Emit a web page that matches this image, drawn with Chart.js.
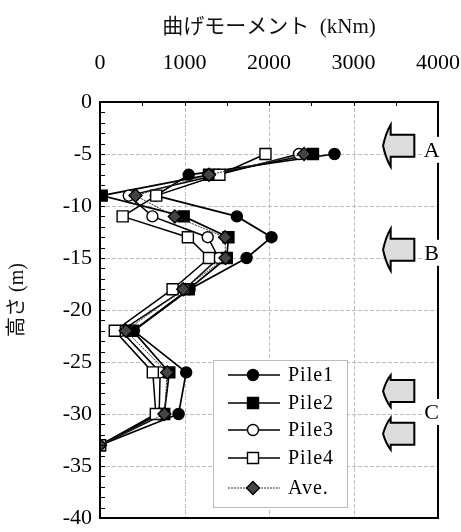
<!DOCTYPE html>
<html>
<head>
<meta charset="utf-8">
<script src="https://cdn.jsdelivr.net/npm/chart.js@4.4.0/dist/chart.umd.min.js"></script>
<style>
  html, body { margin: 0; padding: 0; background: #fff; }
</style>
</head>
<body>
<canvas id="chart" width="461" height="532"></canvas>
<script>
// depth (m) and bending moment (kNm)
const depths = [-5, -7, -9, -11, -13, -15, -18, -22, -26, -30, -33];
const pile1 = [2775, 1050, 660, 1620, 2030, 1735, 1060, 400, 1020, 930, 0];
const pile2 = [2520, 1290, 20, 990, 1520, 1500, 1050, 390, 820, 760, 0];
const pile3 = [2355, 1400, 340, 620, 1275, 1405, 1000, 250, 712, 700, 0];
const pile4 = [1958, 1413, 665, 268, 1040, 1290, 859, 175, 625, 661, 0];
const ave = [2415, 1290, 420, 885, 1480, 1485, 985, 305, 795, 762, 0];

const xTicks = [0, 1000, 2000, 3000, 4000];
const yTicks = [0, -5, -10, -15, -20, -25, -30, -35, -40];

// loading arrows on the right (depth of arrow centre) and their letters
const arrowDepths = [-4.2, -14.2, -27.8, -31.9];
const arrowSizes = [21, 21, 16, 16];
const zoneLabels = ['A', 'B', 'C'];
const zoneDepths = [-4.6, -14.5, -29.8];

const serif = "'Liberation Serif', 'Times New Roman', serif";
const serifJp = "'Liberation Serif', 'Noto Sans CJK JP', serif";

const series = [
  { label: 'Pile1', values: pile1, style: 'circle', radius: 5.5, fill: '#000', line: '#000', width: 1.7, dash: [] },
  { label: 'Pile2', values: pile2, style: 'rect', radius: 7.8, fill: '#000', line: '#000', width: 1.7, dash: [] },
  { label: 'Pile3', values: pile3, style: 'circle', radius: 5.5, fill: '#fff', line: '#000', width: 1.5, dash: [] },
  { label: 'Pile4', values: pile4, style: 'rect', radius: 7.8, fill: '#fff', line: '#000', width: 1.5, dash: [] },
  { label: 'Ave.', values: ave, style: 'rectRot', radius: 6.5, fill: '#444', line: '#333', width: 1, dash: [2, 1] }
];

const datasets = series.map((s, i) => ({
  label: s.label,
  data: depths.map((d, k) => ({ x: s.values[k], y: d })),
  showLine: true,
  borderColor: s.line,
  borderWidth: s.width,
  borderDash: s.dash,
  pointStyle: s.style,
  pointRadius: s.radius,
  pointBackgroundColor: s.fill,
  pointBorderColor: '#000',
  pointBorderWidth: 1.4,
  order: series.length - i
}));

function drawMarker(ctx, s, x, y) {
  ctx.save();
  ctx.fillStyle = s.fill;
  ctx.strokeStyle = '#000';
  ctx.lineWidth = 1.4;
  ctx.setLineDash([]);
  ctx.beginPath();
  if (s.style === 'circle') {
    ctx.arc(x, y, s.radius, 0, Math.PI * 2);
  } else if (s.style === 'rect') {
    const h = s.radius * Math.SQRT1_2;
    ctx.rect(x - h, y - h, 2 * h, 2 * h);
  } else {
    ctx.moveTo(x, y - s.radius);
    ctx.lineTo(x + s.radius, y);
    ctx.lineTo(x, y + s.radius);
    ctx.lineTo(x - s.radius, y);
    ctx.closePath();
  }
  ctx.fill();
  ctx.stroke();
  ctx.restore();
}

// light grid behind the data
const gridLines = {
  id: 'gridLines',
  beforeDatasetsDraw(chart) {
    const ctx = chart.ctx;
    const area = chart.chartArea;
    const xs = chart.scales.x;
    const ys = chart.scales.y;
    ctx.save();
    ctx.strokeStyle = '#bdbdbd';
    ctx.lineWidth = 1;
    ctx.setLineDash([4, 2]);
    xTicks.slice(1, -1).forEach(v => {
      const px = Math.round(xs.getPixelForValue(v)) + 0.5;
      ctx.beginPath();
      ctx.moveTo(px, area.top);
      ctx.lineTo(px, area.bottom);
      ctx.stroke();
    });
    yTicks.slice(1, -1).forEach(v => {
      const py = Math.round(ys.getPixelForValue(v)) + 0.5;
      ctx.beginPath();
      ctx.moveTo(area.left, py);
      ctx.lineTo(area.right, py);
      ctx.stroke();
    });
    ctx.restore();
  }
};

// frame, minor ticks, arrows, zone letters and the legend
const decorations = {
  id: 'decorations',
  afterDatasetsDraw(chart) {
    const ctx = chart.ctx;
    const area = chart.chartArea;
    const xs = chart.scales.x;
    const ys = chart.scales.y;
    ctx.save();

    // minor ticks
    ctx.strokeStyle = '#000';
    ctx.lineWidth = 1;
    for (let d = -1; d > -40; d--) {
      const py = Math.round(ys.getPixelForValue(d)) + 0.5;
      ctx.beginPath();
      ctx.moveTo(area.left, py);
      ctx.lineTo(area.left + 5, py);
      ctx.stroke();
    }
    for (let v = 500; v < 4000; v += 500) {
      const px = Math.round(xs.getPixelForValue(v)) + 0.5;
      ctx.beginPath();
      ctx.moveTo(px, area.top);
      ctx.lineTo(px, area.top + 4);
      ctx.stroke();
    }

    // frame
    ctx.lineWidth = 2;
    ctx.strokeRect(area.left, area.top, area.right - area.left, area.bottom - area.top);

    // arrows
    const tip = xs.getPixelForValue(3350);
    const base = xs.getPixelForValue(3440);
    const back = xs.getPixelForValue(3720);
    arrowDepths.forEach((d, i) => {
      const cy = ys.getPixelForValue(d);
      const hh = arrowSizes[i];
      const bh = 11;
      ctx.beginPath();
      ctx.moveTo(tip, cy);
      ctx.quadraticCurveTo(tip + (base - tip) * 0.35, cy - hh * 0.6, base, cy - hh);
      ctx.lineTo(base, cy - bh);
      ctx.lineTo(back, cy - bh);
      ctx.lineTo(back, cy + bh);
      ctx.lineTo(base, cy + bh);
      ctx.lineTo(base, cy + hh);
      ctx.quadraticCurveTo(tip + (base - tip) * 0.35, cy + hh * 0.6, tip, cy);
      ctx.closePath();
      ctx.fillStyle = '#dcdcdc';
      ctx.fill();
      ctx.lineWidth = 2;
      ctx.strokeStyle = '#000';
      ctx.stroke();
    });

    // zone letters, sitting on the right frame
    ctx.font = '22px ' + serif;
    ctx.textAlign = 'center';
    ctx.textBaseline = 'middle';
    const lx = xs.getPixelForValue(3925);
    zoneLabels.forEach((t, i) => {
      const cy = ys.getPixelForValue(zoneDepths[i]);
      ctx.fillStyle = '#fff';
      ctx.fillRect(lx - 8, cy - 13, 16, 26);
      ctx.fillStyle = '#000';
      ctx.fillText(t, lx, cy + 1);
    });

    // legend box
    const bx = area.left + 113;
    const by = area.top + 258;
    const bw = 134;
    const bhgt = 147;
    ctx.fillStyle = '#fff';
    ctx.fillRect(bx, by, bw, bhgt);
    ctx.strokeStyle = '#bbb';
    ctx.lineWidth = 1;
    ctx.strokeRect(bx + 0.5, by + 0.5, bw, bhgt);
    const rows = [15, 43, 70, 98, 128];
    ctx.font = '20px ' + serif;
    ctx.textAlign = 'left';
    ctx.letterSpacing = '1px';
    series.forEach((s, i) => {
      const ry = by + rows[i];
      ctx.save();
      ctx.strokeStyle = s.line;
      ctx.lineWidth = s.width;
      ctx.setLineDash(s.dash);
      ctx.beginPath();
      ctx.moveTo(bx + 15, ry);
      ctx.lineTo(bx + 67, ry);
      ctx.stroke();
      ctx.restore();
      drawMarker(ctx, s, bx + 40, ry);
      ctx.fillStyle = '#000';
      ctx.fillText(s.label, bx + 75, ry + 1);
    });
    ctx.restore();
  }
};

new Chart(document.getElementById('chart'), {
  type: 'scatter',
  data: { datasets },
  options: {
    responsive: false,
    animation: false,
    layout: { padding: { left: 0, right: 23, top: 0, bottom: 14 } },
    plugins: {
      legend: { display: false },
      tooltip: { enabled: false }
    },
    scales: {
      x: {
        type: 'linear',
        position: 'top',
        min: 0,
        max: 4000,
        afterBuildTicks: s => { s.ticks = xTicks.map(v => ({ value: v })); },
        afterFit: s => { s.height = 102; s.paddingLeft = 0; s.paddingRight = 0; },
        ticks: { color: '#000', padding: 26, font: { family: serif, size: 22 }, callback: v => String(v) },
        grid: { display: false, drawTicks: false },
        border: { display: false },
        title: {
          display: true,
          text: '曲げモーメント  (kNm)',
          color: '#111',
          font: { family: serifJp, size: 21 },
          padding: { top: 15, bottom: 0 }
        }
      },
      y: {
        type: 'linear',
        min: -40,
        max: 0,
        afterBuildTicks: s => { s.ticks = yTicks.map(v => ({ value: v })); },
        afterFit: s => { s.width = 100; s.paddingTop = 0; s.paddingBottom = 0; },
        ticks: { color: '#000', padding: 8, font: { family: serif, size: 22 }, callback: v => String(v) },
        grid: { display: false, drawTicks: false },
        border: { display: false },
        title: {
          display: true,
          text: '    高さ (m)',
          color: '#111',
          font: { family: serifJp, size: 20 },
          padding: { top: 6, bottom: 0 }
        }
      }
    }
  },
  plugins: [gridLines, decorations]
});
</script>
</body>
</html>
